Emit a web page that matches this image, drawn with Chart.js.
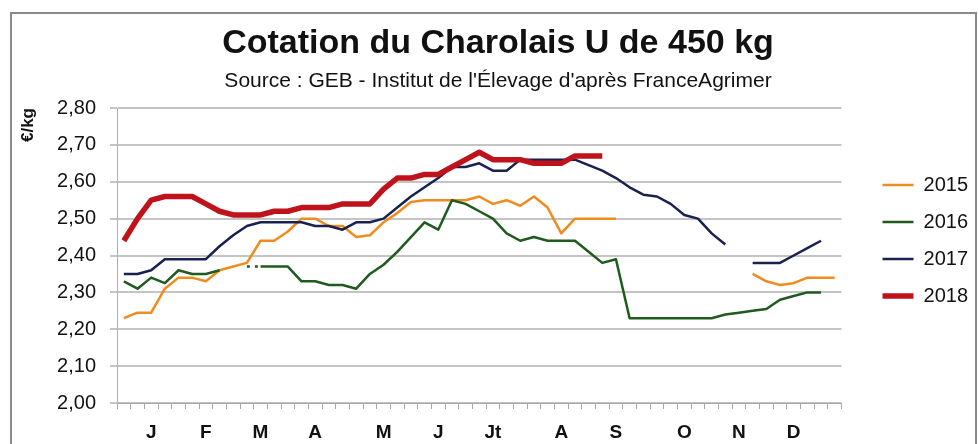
<!DOCTYPE html>
<html><head><meta charset="utf-8">
<script src="https://cdn.jsdelivr.net/npm/chart.js@4/dist/chart.umd.min.js"></script>
<style>html,body{margin:0;padding:0;background:#fff;}#wrap{width:978px;height:444px;}</style>
</head><body><div id="wrap"><canvas id="c" width="978" height="444"></canvas></div>
<script>
// ---- data ----
const monthNames = ['J','F','M','A','M','J','Jt','A','S','O','N','D'];
const monthWeeks = [3,7,11,15,20,24,28,33,37,42,46,50];
const seriesNames = ['2015','2016','2017','2018'];
const s2015 = [2.23,2.245,2.245,2.31,2.34,2.34,2.33,2.36,2.37,2.38,2.44,2.44,2.465,2.50,2.50,2.48,2.48,2.45,2.455,2.49,
  2.515,2.545,2.55,2.55,2.55,2.55,2.56,2.54,2.55,2.535,2.56,2.53,2.46,2.50,2.50,2.50,2.50,
  null,null,null,null,null,null,null,null,null,2.35,2.33,2.32,2.325,2.34,2.34,2.34];
const s2016 = [2.33,2.31,2.34,2.325,2.36,2.35,2.35,2.36,null,2.37,2.37,2.37,2.37,2.33,2.33,2.32,2.32,2.31,
  2.35,2.375,2.41,2.45,2.49,2.47,2.55,2.54,2.52,2.50,2.46,2.44,2.45,2.44,2.44,2.44,2.41,2.38,2.39,
  2.23,2.23,2.23,2.23,2.23,2.23,2.23,2.24,2.245,2.25,2.255,2.28,2.29,2.30,2.30,null];
const s2017 = [2.35,2.35,2.36,2.39,2.39,2.39,2.39,2.425,2.455,2.48,2.49,2.49,2.49,2.49,2.48,2.48,2.47,2.49,2.49,
  2.50,2.53,2.56,2.585,2.61,2.64,2.64,2.65,2.63,2.63,2.66,2.66,2.66,2.66,2.66,2.645,2.63,2.61,2.585,2.565,2.56,
  2.54,2.51,2.50,2.46,2.43,null,2.38,2.38,2.38,2.40,2.42,2.44,null];
const s2018 = [2.44,2.50,2.55,2.56,2.56,2.56,2.54,2.52,2.51,2.51,2.51,2.52,2.52,2.53,2.53,2.53,2.54,2.54,2.54,
  2.58,2.61,2.61,2.62,2.62,2.64,2.66,2.68,2.66,2.66,2.66,2.65,2.65,2.65,2.67,2.67,2.67,
  null,null,null,null,null,null,null,null,null,null,null,null,null,null,null,null,null];

const weekLabels = s2015.map((_, i) => {
  const k = monthWeeks.indexOf(i + 1);
  return k >= 0 ? monthNames[k] : '';
});

const FONT = "'Liberation Sans', Arial, sans-serif";

const frame = {
  id: 'frame',
  beforeDraw(chart) {
    const c = chart.ctx;
    c.save();
    c.fillStyle = '#fff';
    c.fillRect(0, 0, chart.width, chart.height);
    c.strokeStyle = '#8a8a8a';
    c.lineWidth = 2;
    c.strokeRect(11, 13, 965, 450);
    c.restore();
  }
};

new Chart(document.getElementById('c'), {
  type: 'line',
  data: {
    labels: weekLabels,
    datasets: [
      {label: seriesNames[0], data: s2015, borderColor: '#f08c1e', borderWidth: 2.5, order: 4},
      {label: seriesNames[1], data: s2016, borderColor: '#1f5a1f', borderWidth: 2.5, order: 3,
        segment: {borderDash: ctx => ctx.p0DataIndex === 9 ? [3, 5] : undefined}},
      {label: seriesNames[2], data: s2017, borderColor: '#18214f', borderWidth: 2.5, order: 2},
      {label: seriesNames[3], data: s2018, borderColor: '#c0121b', borderWidth: 5.5, order: 1}
    ]
  },
  options: {
    responsive: false,
    animation: false,
    devicePixelRatio: 1,
    spanGaps: false,
    elements: {point: {radius: 0, hoverRadius: 0}, line: {tension: 0, fill: false, borderCapStyle: 'butt', borderJoinStyle: 'round'}},
    layout: {padding: {left: 18, right: 0, top: 14, bottom: 0}},
    plugins: {
      tooltip: {enabled: false},
      title: {
        display: true, text: 'Cotation du Charolais U de 450 kg', color: '#111',
        font: {family: FONT, size: 34, weight: 'bold', lineHeight: 1.2},
        padding: {top: 9, bottom: 0}
      },
      subtitle: {
        display: true, text: "Source : GEB - Institut de l'Élevage d'après FranceAgrimer", color: '#111',
        font: {family: FONT, size: 21, lineHeight: 1.2},
        padding: {top: 5, bottom: 14}
      },
      legend: {
        position: 'right', align: 'start', fullSize: false,
        title: {display: true, text: '', font: {size: 10, lineHeight: 1}, padding: {top: 40, bottom: 0}},
        labels: {
          usePointStyle: true, pointStyle: 'line', pointStyleWidth: 31,
          color: '#111', font: {family: FONT, size: 20}, padding: 17,
          sort: (a, b) => a.datasetIndex - b.datasetIndex
        }
      }
    },
    scales: {
      x: {
        type: 'category', offset: true,
        grid: {offset: true, drawOnChartArea: false, drawTicks: true, tickLength: 6, color: '#a8a8a8', lineWidth: 1},
        border: {display: true, color: '#a8a8a8', width: 1},
        ticks: {autoSkip: false, maxRotation: 0, minRotation: 0, color: '#111', padding: 12,
          font: {family: FONT, size: 19, weight: 'bold', lineHeight: 1.2}},
        afterFit: s => { s.height = 41; }
      },
      y: {
        min: 2.0, max: 2.8,
        ticks: {stepSize: 0.1, color: '#111', padding: 14,
          font: {family: FONT, size: 20},
          callback: v => Number(v).toFixed(2).replace('.', ',')},
        grid: {color: '#c4c4c4', lineWidth: 2, tickLength: 7},
        border: {display: true, color: '#b0b0b0', width: 1},
        title: {display: true, text: '€/kg', align: 'end', color: '#111',
          font: {family: FONT, size: 17, weight: 'bold', lineHeight: 1.2}, padding: {top: 0, bottom: 0}},
        afterFit: s => { s.width = 99; }
      },
      yR: {
        type: 'linear', position: 'right', display: true, min: 0, max: 1,
        grid: {display: false, drawTicks: false}, border: {display: false},
        ticks: {display: false},
        afterFit: s => { s.width = 24; }
      }
    }
  },
  plugins: [frame]
});
</script>
</body></html>
